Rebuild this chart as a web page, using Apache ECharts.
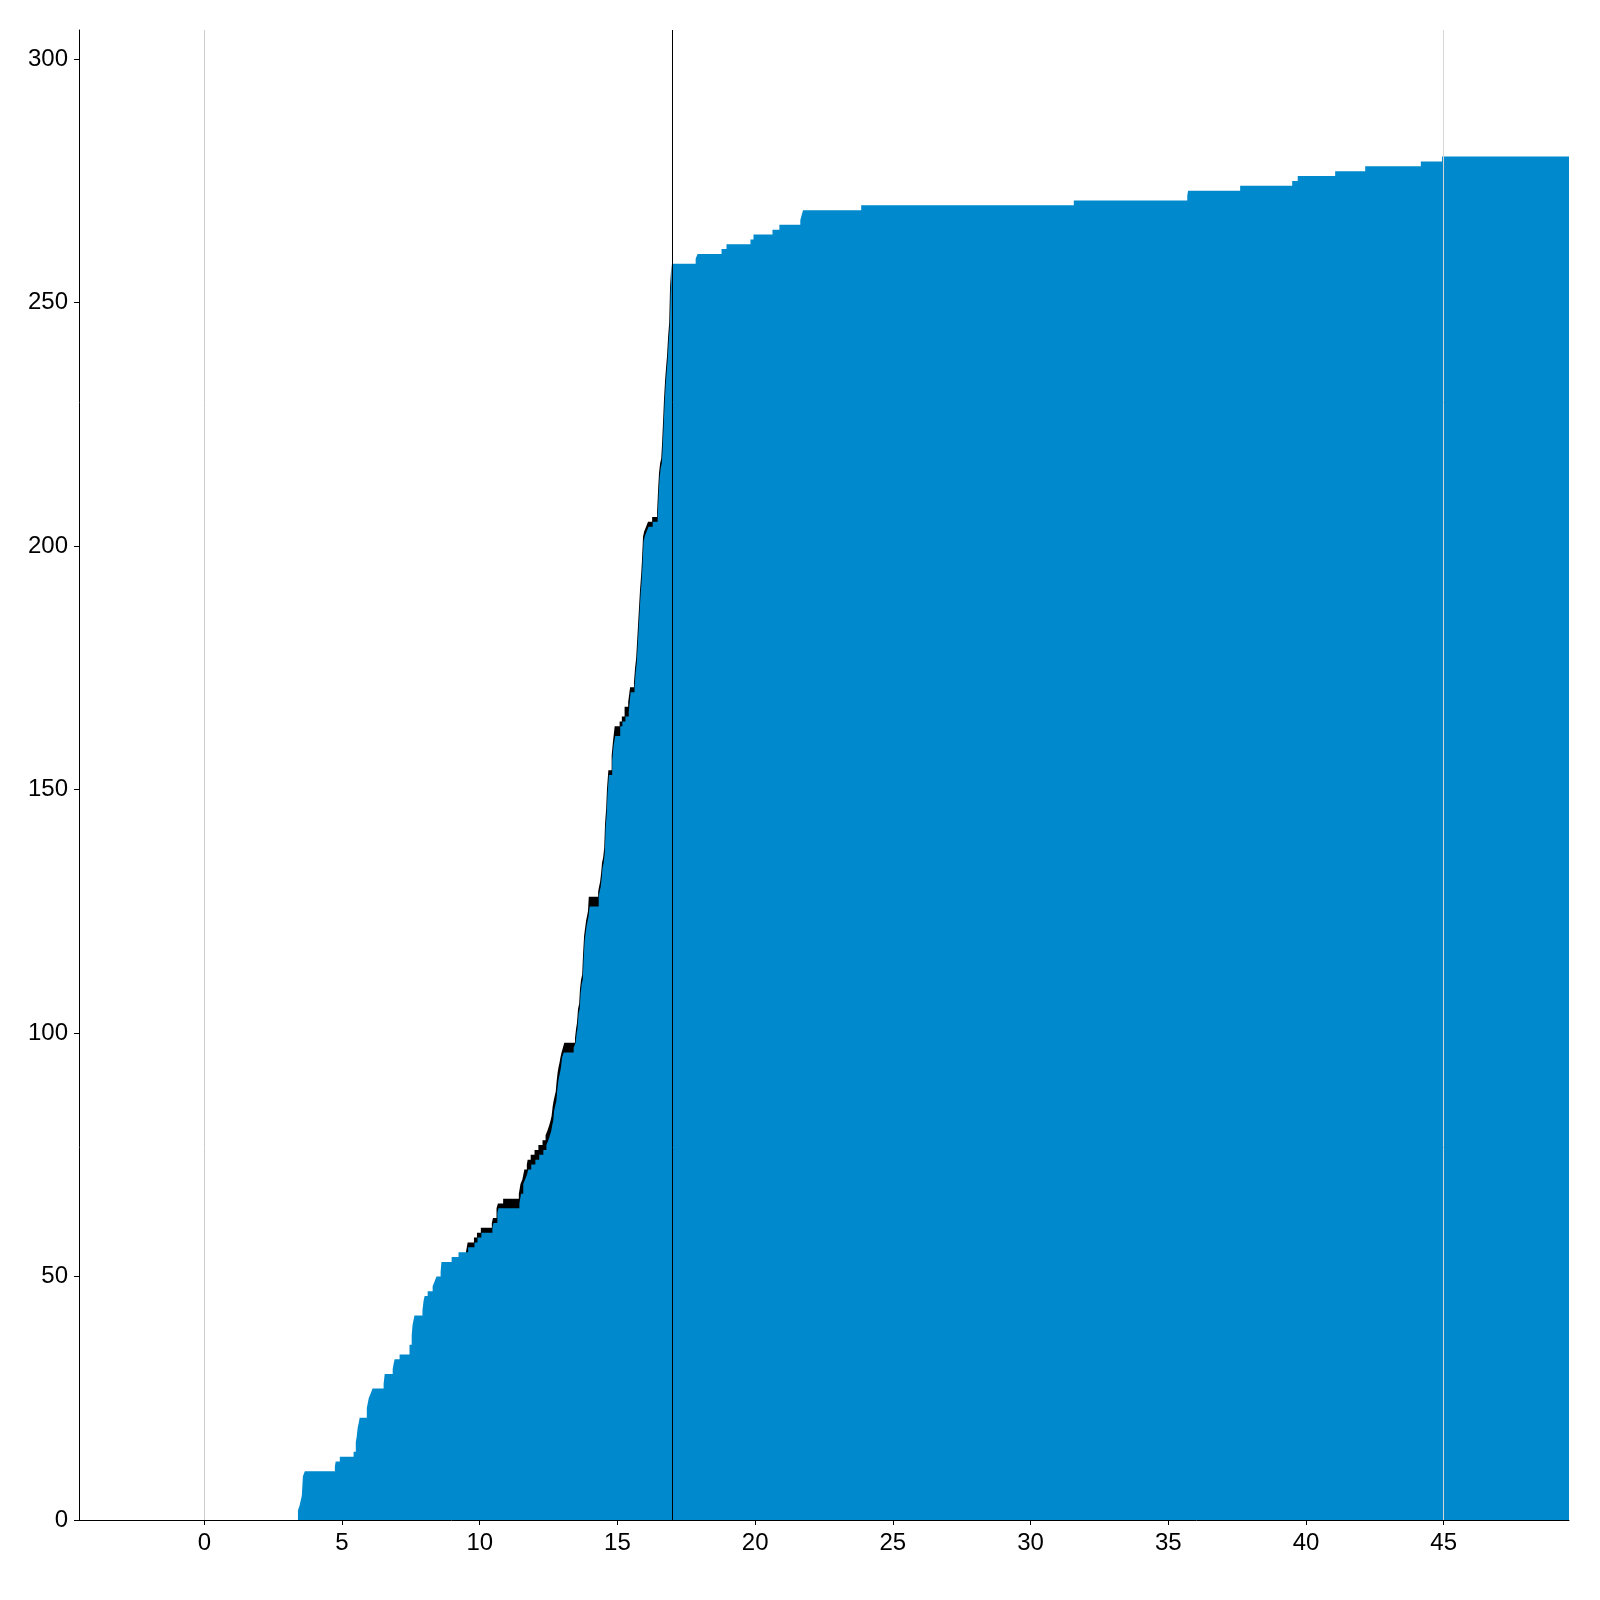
<!DOCTYPE html>
<html>
<head>
<meta charset="utf-8">
<script src="https://cdn.jsdelivr.net/npm/echarts@6/dist/echarts.min.js"></script>
<style>html,body{margin:0;padding:0;background:#fff}#c{width:1600px;height:1600px}</style>
</head>
<body>
<div id="c"></div>
<script>
// cumulative count steps: [x, value reached at x]
const blueSteps = [
 [3.40,2],[3.46,3],[3.50,4],[3.54,5],[3.58,9],[3.65,10],[4.74,11],[4.77,12],[4.92,13],
 [5.42,14],[5.50,16],[5.53,17],[5.57,19],[5.61,20],[5.64,21],[5.90,23],[5.97,25],[6.04,26],
 [6.11,27],[6.51,28],[6.55,30],[6.84,31],[6.87,32],[6.91,33],[7.09,34],[7.45,36],[7.53,38],
 [7.56,40],[7.63,42],[7.92,43],[7.96,45],[8.00,46],[8.11,47],[8.29,48],[8.36,49],[8.43,50],
 [8.58,51],[8.61,53],[8.98,54],[9.23,55],[9.58,56],[9.81,57],[9.92,58],[10.06,59],[10.46,60],
 [10.50,61],[10.64,63],[10.68,64],[11.44,65],[11.50,67],[11.58,69],[11.65,70],[11.72,71],
 [11.76,72],[11.87,73],[12.02,74],[12.16,75],[12.31,76],[12.42,77],[12.49,78],[12.55,79],
 [12.60,80],[12.63,81],[12.67,82],[12.70,84],[12.74,85],[12.78,86],[12.81,88],[12.85,90],
 [12.88,91],[12.92,92],[12.95,93],[12.99,95],[13.05,96],[13.41,97],[13.48,98],[13.52,100],
 [13.55,101],[13.59,104],[13.63,105],[13.66,108],[13.70,110],[13.74,111],[13.77,115],
 [13.81,119],[13.88,122],[13.95,124],[13.99,126],[14.32,128],[14.35,129],[14.39,130],
 [14.43,132],[14.46,134],[14.50,135],[14.54,137],[14.57,142],[14.61,145],[14.64,149],
 [14.69,153],[14.81,156],[14.86,159],[14.92,161],[15.10,163],[15.18,164],[15.29,165],
 [15.41,166],[15.48,170],[15.62,171],[15.66,174],[15.70,176],[15.74,180],[15.77,183],
 [15.81,187],[15.84,190],[15.88,193],[15.91,196],[15.95,201],[15.99,202],[16.06,203],
 [16.13,204],[16.28,205],[16.46,206],[16.50,211],[16.53,214],[16.57,216],[16.61,217],
 [16.64,220],[16.68,225],[16.71,229],[16.75,233],[16.79,236],[16.82,238],[16.86,242],
 [16.90,245],[16.93,252],[16.98,258],[17.84,259],[17.91,260],[18.78,261],[18.96,262],
 [19.83,263],[19.94,264],[20.63,265],[20.88,266],[21.64,267],[21.69,268],[21.74,269],
 [23.85,270],[31.57,271],[35.69,272],[35.72,273],[37.61,274],[39.50,275],[39.70,276],
 [41.06,277],[42.15,278],[44.17,279],[44.94,280],[49.60,280]
];
const blackSteps = [
 [9.50,55],[9.56,57],[9.79,58],[9.90,59],[10.04,60],[10.44,61],[10.48,62],[10.61,64],
 [10.66,65],[10.85,66],[11.42,67],[11.48,69],[11.55,70],[11.62,72],[11.71,73],[11.74,74],
 [11.85,75],[11.99,76],[12.13,77],[12.28,78],[12.39,79],[12.46,80],[12.52,81],[12.57,82],
 [12.61,83],[12.65,85],[12.68,86],[12.72,87],[12.76,88],[12.79,90],[12.83,92],[12.86,93],
 [12.90,94],[12.93,95],[12.97,96],[13.02,97],[13.07,98],[13.46,99],[13.50,101],[13.53,102],
 [13.57,105],[13.61,106],[13.64,109],[13.68,111],[13.72,112],[13.75,116],[13.79,120],
 [13.86,123],[13.93,125],[13.96,128],[14.30,129],[14.33,130],[14.37,131],[14.41,133],
 [14.44,135],[14.48,136],[14.52,138],[14.55,143],[14.59,146],[14.62,150],[14.67,154],
 [14.79,157],[14.84,160],[14.90,163],[15.08,164],[15.16,165],[15.26,167],[15.39,168],
 [15.46,171],[15.60,172],[15.64,175],[15.68,177],[15.72,181],[15.75,184],[15.79,188],
 [15.82,191],[15.86,194],[15.89,197],[15.93,202],[15.97,203],[16.04,204],[16.11,205],
 [16.26,206],[16.44,207],[16.48,212],[16.51,215],[16.55,217],[16.59,218],[16.62,221],
 [16.66,226],[16.69,230],[16.73,234],[16.77,237],[16.80,239],[16.84,243],[16.88,246],
 [16.91,253],[16.96,258],[17.00,258]
];
const xTickValues = [0, 5, 10, 15, 20, 25, 30, 35, 40, 45];
const yTickValues = [0, 50, 100, 150, 200, 250, 300];
const markerX = [0, 17, 45];
const markerColors = ['#cccccc', '#000000', '#d6d6d6'];

const chart = echarts.init(document.getElementById('c'), null, {renderer: 'canvas'});
const font = "'Liberation Sans', Arial, sans-serif";
chart.setOption({
  animation: false,
  backgroundColor: '#ffffff',
  grid: {left: 79, right: 31, top: 30, bottom: 80},
  xAxis: {
    type: 'value', min: -4.55, max: 49.55,
    axisLine: {show: true, onZero: false, lineStyle: {color: '#000', width: 1}},
    axisTick: {show: true, length: 5, customValues: xTickValues, lineStyle: {color: '#000'}},
    axisLabel: {customValues: xTickValues, color: '#000', fontSize: 24, fontFamily: font, margin: 11},
    splitLine: {show: false}
  },
  yAxis: {
    type: 'value', min: 0, max: 306,
    axisLine: {show: true, onZero: false, lineStyle: {color: '#000', width: 1}},
    axisTick: {show: true, length: 5, customValues: yTickValues, lineStyle: {color: '#000'}},
    axisLabel: {customValues: yTickValues, color: '#000', fontSize: 24, fontFamily: font, margin: 11},
    splitLine: {show: false}
  },
  series: [
    {
      type: 'line', step: 'end', data: blackSteps, showSymbol: false, z: 2,
      lineStyle: {width: 0}, areaStyle: {color: '#000000', opacity: 1}, silent: true
    },
    {
      type: 'line', step: 'end', data: blueSteps, showSymbol: false, z: 3,
      lineStyle: {width: 0}, areaStyle: {color: '#0089cc', opacity: 1}, silent: true
    },
    {
      type: 'line', data: [], z: 5, silent: true,
      markLine: {
        silent: true, symbol: 'none', label: {show: false}, animation: false,
        data: markerX.map((v, i) => ({xAxis: v, lineStyle: {color: markerColors[i], width: 1, type: 'solid'}}))
      }
    }
  ]
});
</script>
</body>
</html>
